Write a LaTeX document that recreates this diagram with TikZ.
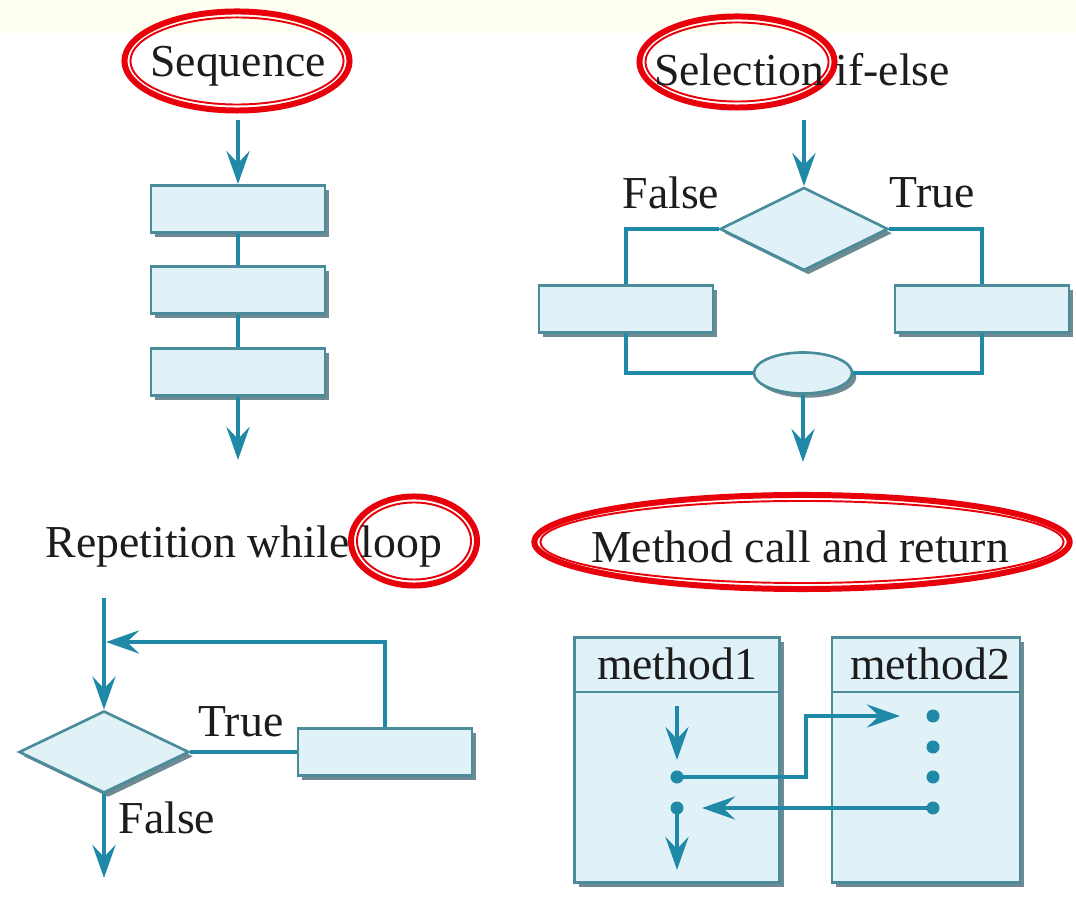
\documentclass[tikz,border=0pt]{standalone}
\usepackage{fontspec}
\setmainfont{Liberation Serif}
\usetikzlibrary{arrows.meta,shapes.geometric,shadows}

\definecolor{flowcol}{HTML}{2089A8}
\definecolor{boxfill}{HTML}{E0F2F8}
\definecolor{boxline}{HTML}{4A8C9A}
\definecolor{boxshade}{HTML}{6F8A93}
\definecolor{topband}{HTML}{FFFFF2}
\definecolor{inkcol}{HTML}{1C1C1C}
\definecolor{ringred}{HTML}{E8000B}

\tikzset{
  title/.style={text=inkcol, font=\rmfamily\fontsize{13}{15}\selectfont, inner sep=0pt},
  shade/.style={drop shadow={shadow xshift=1.2pt, shadow yshift=-1.2pt, fill=boxshade, opacity=1}},
  proc/.style={draw=boxline, fill=boxfill, line width=0.75pt, minimum width=1.74cm, minimum height=0.47cm, inner sep=0pt, shade},
  decision/.style={diamond, draw=boxline, fill=boxfill, line width=0.75pt, minimum width=1.68cm, minimum height=0.83cm, inner sep=0pt, shade},
  junction/.style={ellipse, draw=boxline, fill=boxfill, line width=0.75pt, minimum width=0.98cm, minimum height=0.41cm, inner sep=0pt, shade},
  frame/.style={draw=boxline, fill=boxfill, line width=0.8pt, minimum height=2.45cm, inner sep=0pt, shade},
  dot/.style={circle, fill=flowcol, minimum size=0.13cm, inner sep=0pt},
  link/.style={draw=flowcol, line width=1.4pt},
  flow/.style={link, -{Stealth[length=0.33cm, width=0.23cm, inset=0.12cm]}},
  ring/.style={ellipse, draw=ringred, line width=1.7pt, inner sep=0pt},
  ringin/.style={ellipse, draw=ringred, line width=0.55pt, inner sep=0pt},
}

\begin{document}
\begin{tikzpicture}[x=0.01cm, y=-0.01cm]
    \useasboundingbox (0,0) rectangle (1076,901);
    \fill[white] (0,0) rectangle (1076,901);
    \fill[topband] (0,0) rectangle (1076,33);

    % Sequence
    \node[ring, minimum width=2.25cm, minimum height=0.99cm] (seqring) at (237,61) {};
    \node[ringin, minimum width=2.13cm, minimum height=0.87cm] (seqringin) at (237,61) {};
    \node[title] (seqtitle) at (238,66) {Sequence};
    \coordinate (seqin) at (238,120);
    \node[proc] (seqa) at (238,209) {};
    \node[proc] (seqb) at (238,290) {};
    \node[proc] (seqc) at (238,372) {};
    \coordinate (seqout) at (238,460);

    \draw[flow] (seqin) -- (seqa);
    \draw[link] (seqa) -- (seqb);
    \draw[link] (seqb) -- (seqc);
    \draw[flow] (seqc) -- (seqout);

    % Selection
    \node[ring, minimum width=1.95cm, minimum height=0.91cm] (selring) at (737,62) {};
    \node[ringin, minimum width=1.83cm, minimum height=0.79cm] (selringin) at (737,62) {};
    \node[title] (seltitle) at (802,70) {Selection if-else};
    \coordinate (selin) at (804,120);
    \node[decision] (seltest) at (804,229) {};
    \node[title] (selflab) at (671,193) {False};
    \node[title] (seltlab) at (932,193) {True};
    \node[proc] (selfalse) at (626,309) {};
    \node[proc] (seltrue) at (982,309) {};
    \node[junction] (selmerge) at (803,373) {};
    \coordinate (selout) at (803,462);

    \draw[flow] (selin) -- (seltest);
    \draw[link] (seltest.west) -| (selfalse);
    \draw[link] (seltest.east) -| (seltrue);
    \draw[link] (selfalse) |- (selmerge);
    \draw[link] (seltrue) |- (selmerge);
    \draw[flow] (selmerge) -- (selout);

    % Repetition
    \node[ring, minimum width=1.26cm, minimum height=0.89cm] (repring) at (414,541) {};
    \node[ringin, minimum width=1.14cm, minimum height=0.77cm] (repringin) at (414,541) {};
    \node[title] (reptitle) at (244,547) {Repetition while loop};
    \coordinate (repin) at (104,598);
    \node[decision, minimum width=1.70cm, minimum height=0.82cm] (reptest) at (104,752) {};
    \node[title] (reptlab) at (241,722) {True};
    \node[title] (repflab) at (167,818) {False};
    \node[proc] (repbody) at (385,752) {};
    \coordinate (repback) at (106,642);
    \coordinate (repout) at (104,878);

    \draw[flow] (repin) -- (reptest);
    \draw[link] (reptest) -- (repbody);
    \draw[flow] (repbody) |- (repback);
    \draw[flow] (reptest) -- (repout);

    % Method call and return
    \node[ring, minimum width=5.35cm, minimum height=0.94cm] (metring) at (802,542) {};
    \node[ringin, minimum width=5.23cm, minimum height=0.82cm] (metringin) at (802,542) {};
    \node[title] (mettitle) at (800,547) {Method call and return};
    \node[frame, minimum width=2.05cm] (mone) at (677,760) {};
    \node[frame, minimum width=1.88cm] (mtwo) at (926,760) {};
    \node[title] (monename) at (677,664) {method1};
    \node[title] (mtwoname) at (930,664) {method2};
    \coordinate (monesep) at (677,692);
    \coordinate (mtwosep) at (926,692);
    \draw[boxline, line width=0.8pt] (mone.west |- monesep) -- (mone.east |- monesep);
    \draw[boxline, line width=0.8pt] (mtwo.west |- mtwosep) -- (mtwo.east |- mtwosep);

    \node[dot] (monecall) at (677,777) {};
    \node[dot] (monertn) at (677,808) {};
    \node[dot] (mtwoa) at (933,716) {};
    \node[dot] (mtwob) at (933,747) {};
    \node[dot] (mtwoc) at (933,777) {};
    \node[dot] (mtwod) at (933,808) {};
    \coordinate (monestart) at (677,706);
    \coordinate (monestop) at (677,760);
    \coordinate (callbend) at (806,716);
    \coordinate (callend) at (900,716);
    \coordinate (rtnend) at (702,808);
    \coordinate (moneend) at (677,870);

    \draw[flow] (monestart) -- (monestop);
    \draw[flow] (monecall.center) -| (callbend) -- (callend);
    \draw[flow] (mtwod.center) -- (rtnend);
    \draw[flow] (monertn.center) -- (moneend);
\end{tikzpicture}
\end{document}
